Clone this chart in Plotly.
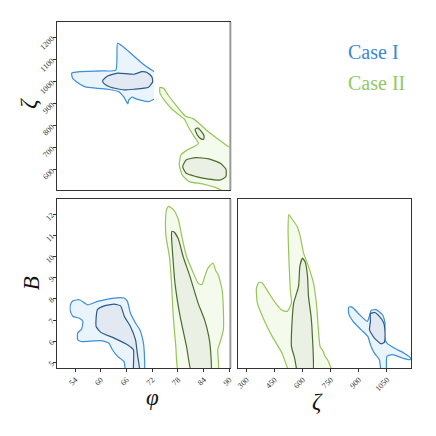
import plotly.graph_objects as go

# ranges / ticks
phi_range = [49.85, 90.23]
zeta_top_range = [509, 1271]
zeta_range = [256, 1180]
b_range = [4.74, 12.71]

phi_ticks = [54, 60, 66, 72, 78, 84, 90]
zeta_top_ticks = [600, 700, 800, 900, 1000, 1100, 1200]
zeta_ticks = [300, 450, 600, 750, 900, 1050]
b_ticks = [5, 6, 7, 8, 9, 10, 11, 12]

# ---- phi vs zeta (top panel) ----
c1_phi_zeta_outer_phi = [72.4, 71.1, 68.4, 67.3, 66.5, 66.3, 65.4, 64.2, 61.6, 57.8, 56.2, 54.3, 53.4,
                         53.2, 55.1, 60.1, 63.5, 63.9, 65.0, 66.5, 69.2, 70.7, 72.4]
c1_phi_zeta_outer_zeta = [921, 910, 921, 930, 917, 899, 930, 955, 966, 973, 978, 1000, 1016,
                          1039, 1046, 1049, 1053, 1175, 1162, 1137, 1091, 1068, 1046]
c1_phi_zeta_inner_phi = [60.4, 61.6, 63.9, 67.7, 69.6, 70.7, 71.9, 72.1, 71.1, 67.7, 65.4, 62.3, 60.8]
c1_phi_zeta_inner_zeta = [1005, 1026, 1039, 1034, 1046, 1043, 1023, 1000, 975, 966, 963, 975, 990]

c2_phi_zeta_outer_phi = [73.8, 74.7, 75.7, 77.2, 78.7, 79.9, 81.4, 82.9, 84.8, 87.1, 89.8, 90.8, 90.8,
                         86.7, 83.7, 80.6, 79.0, 78.3, 78.7, 80.2, 81.8, 82.8, 81.8, 80.6, 79.5,
                         78.3, 76.4, 74.9, 73.8]
c2_phi_zeta_outer_zeta = [975, 969, 940, 902, 865, 842, 834, 812, 778, 744, 706, 700, 490,
                          521, 537, 547, 577, 623, 668, 691, 706, 721, 751, 789, 830,
                          849, 880, 914, 948]
c2_phi_zeta_small_phi = [82.0, 82.6, 83.3, 84.1, 84.0, 83.3, 82.5]
c2_phi_zeta_small_zeta = [784, 791, 778, 754, 739, 742, 759]
c2_phi_zeta_inner_phi = [79.1, 79.9, 82.2, 85.2, 87.9, 89.2, 89.2, 87.9, 85.2, 82.2, 79.9]
c2_phi_zeta_inner_zeta = [615, 645, 656, 650, 630, 603, 570, 555, 558, 570, 585]

# ---- phi vs B (bottom left) ----
c1_phi_b_outer_phi = [52.9, 53.5, 55.0, 56.9, 59.2, 63.1, 65.4, 66.2, 66.9, 68.1, 69.1, 69.6, 70.0, 70.0,
                      66.0, 65.4, 63.9, 62.7, 61.9, 60.0, 55.4, 54.6, 54.6, 55.5, 55.8, 55.0, 53.5, 52.9]
c1_phi_b_outer_b = [7.72, 7.91, 7.96, 7.72, 7.88, 8.04, 8.04, 7.88, 7.33, 6.86, 6.54, 6.23, 5.84, 4.4,
                    4.4, 5.05, 5.29, 5.6, 5.91, 6.03, 5.99, 6.07, 6.39, 6.57, 6.94, 7.09, 7.17, 7.41]
c1_phi_b_inner_phi = [58.9, 59.2, 60.8, 63.1, 64.6, 65.5, 66.9, 68.1, 68.5, 69.1,
                      67.7, 67.6, 66.2, 63.1, 60.0, 58.9]
c1_phi_b_inner_b = [7.09, 7.49, 7.67, 7.75, 7.67, 7.17, 6.7, 6.07, 5.44, 4.4,
                    4.4, 5.6, 5.84, 6.15, 6.42, 6.7]

c2_phi_b_outer_phi = [75.8, 77.0, 78.1, 78.9, 80.0, 81.6, 82.7, 83.6, 84.2, 85.0, 86.2, 86.8, 87.4,
                      88.3, 88.6, 88.6, 88.0, 87.3, 87.3, 78.3, 77.5, 76.9, 76.5, 76.0, 75.2,
                      75.1, 75.3]
c2_phi_b_outer_b = [12.36, 12.2, 11.73, 10.95, 10.0, 9.22, 8.74, 8.67, 9.03, 9.45, 9.69, 9.34, 9.14,
                    8.43, 7.49, 6.54, 6.07, 5.6, 4.4, 4.4, 5.76, 7.17, 8.74, 10.0, 10.95,
                    11.73, 12.17]
c2_phi_b_inner_phi = [76.55, 77.1, 78.1, 79.2, 80.8, 82.7, 84.2, 85.2, 85.6, 85.6,
                      81.4, 80.0, 78.5, 77.3, 76.8, 76.5]
c2_phi_b_inner_b = [11.18, 11.15, 10.82, 10.0, 9.06, 7.8, 7.02, 6.23, 5.6, 4.4,
                    4.4, 5.76, 7.17, 8.74, 10.0, 10.95]

# ---- zeta vs B (bottom right) ----
c1_zeta_b_outer_zeta = [846, 864, 904, 945, 957, 966, 992, 1027, 1040, 1036, 1050, 1089, 1142, 1177,
                        1173, 1133, 1080, 1050, 1045, 1022, 1010, 983, 962, 948, 913, 869, 846]
c1_zeta_b_outer_b = [7.61, 7.61, 7.25, 6.94, 7.2, 7.46, 7.49, 7.25, 6.86, 6.23, 5.91, 5.68, 5.44, 5.21,
                     5.13, 5.21, 5.37, 5.29, 4.4, 4.4, 5.13, 5.44, 5.84, 6.23, 6.54, 6.94, 7.3]
c1_zeta_b_inner_zeta = [962, 983, 1010, 1033, 1040, 1036, 1019, 983, 957, 962]
c1_zeta_b_inner_b = [7.3, 7.36, 7.17, 6.86, 6.39, 5.95, 5.88, 6.15, 6.54, 6.94]

c2_zeta_b_outer_zeta = [353, 367, 385, 420, 455, 490, 517, 540, 534, 526, 522, 526, 540, 570, 587,
                        605, 631, 658, 675, 684, 693, 710, 719, 733, 760, 540, 490, 437, 393, 358]
c2_zeta_b_outer_b = [8.51, 8.78, 8.74, 8.27, 7.8, 7.46, 7.41, 7.8, 8.43, 10.0, 11.26, 11.97, 11.81,
                     11.42, 10.95, 10.16, 9.53, 8.74, 7.64, 6.54, 5.76, 5.52, 5.29, 5.13, 4.4,
                     4.4, 5.44, 6.23, 7.02, 7.8]
c2_zeta_b_inner_zeta = [599, 614, 626, 631, 645, 652, 652, 578, 557, 540, 543, 552, 578, 585]
c2_zeta_b_inner_b = [9.92, 9.72, 9.06, 8.12, 7.17, 6.23, 4.4, 4.4, 5.21, 5.76, 6.86, 7.8, 8.59, 9.53]

blue_line = '#3d8ed8'
blue_fill = '#e9f4fd'
blue_inner_line = '#2b5a8a'
blue_inner_fill = '#e2e9f2'
green_line = '#97c456'
green_fill = '#f5fbec'
green_inner_line = '#4c6a2b'
green_inner_fill = '#ebf0e4'


def add_contour(fig, xs, ys, line_color, fill_color, xaxis, yaxis, closed=True):
    fig.add_trace(go.Scatter(x=xs, y=ys, mode='lines', fill='toself', fillcolor=fill_color,
                             line=dict(width=0, shape='spline', smoothing=0.5),
                             xaxis=xaxis, yaxis=yaxis, hoverinfo='skip'))
    lx = xs + [xs[0]] if closed else xs
    ly = ys + [ys[0]] if closed else ys
    fig.add_trace(go.Scatter(x=lx, y=ly, mode='lines',
                             line=dict(color=line_color, width=1.2, shape='spline', smoothing=0.5),
                             xaxis=xaxis, yaxis=yaxis, hoverinfo='skip'))


fig = go.Figure()

# top panel
add_contour(fig, c1_phi_zeta_outer_phi, c1_phi_zeta_outer_zeta, blue_line, blue_fill, 'x', 'y', closed=False)
add_contour(fig, c1_phi_zeta_inner_phi, c1_phi_zeta_inner_zeta, blue_inner_line, blue_inner_fill, 'x', 'y')
add_contour(fig, c2_phi_zeta_outer_phi, c2_phi_zeta_outer_zeta, green_line, green_fill, 'x', 'y')
add_contour(fig, c2_phi_zeta_small_phi, c2_phi_zeta_small_zeta, green_inner_line, green_inner_fill, 'x', 'y')
add_contour(fig, c2_phi_zeta_inner_phi, c2_phi_zeta_inner_zeta, green_inner_line, green_inner_fill, 'x', 'y')

# bottom left
add_contour(fig, c1_phi_b_outer_phi, c1_phi_b_outer_b, blue_line, blue_fill, 'x2', 'y2')
add_contour(fig, c1_phi_b_inner_phi, c1_phi_b_inner_b, blue_inner_line, blue_inner_fill, 'x2', 'y2')
add_contour(fig, c2_phi_b_outer_phi, c2_phi_b_outer_b, green_line, green_fill, 'x2', 'y2')
add_contour(fig, c2_phi_b_inner_phi, c2_phi_b_inner_b, green_inner_line, green_inner_fill, 'x2', 'y2')

# bottom right
add_contour(fig, c2_zeta_b_outer_zeta, c2_zeta_b_outer_b, green_line, green_fill, 'x3', 'y3')
add_contour(fig, c2_zeta_b_inner_zeta, c2_zeta_b_inner_b, green_inner_line, green_inner_fill, 'x3', 'y3')
add_contour(fig, c1_zeta_b_outer_zeta, c1_zeta_b_outer_b, blue_line, blue_fill, 'x3', 'y3')
add_contour(fig, c1_zeta_b_inner_zeta, c1_zeta_b_inner_b, blue_inner_line, blue_inner_fill, 'x3', 'y3')

W = 436
tick_font = dict(family='Liberation Serif', size=8, color='#333')
axis_common = dict(showgrid=False, zeroline=False, showline=True, mirror=True, linecolor='#333',
                   linewidth=1, ticks='outside', ticklen=3, tickcolor='#333', tickfont=tick_font,
                   tickangle=-45)

fig.update_layout(
    width=W, height=W,
    margin=dict(l=0, r=0, t=0, b=0),
    paper_bgcolor='white', plot_bgcolor='white',
    showlegend=False,
    xaxis=dict(axis_common, domain=[56 / W, 231 / W], range=phi_range, anchor='y',
               showticklabels=False, ticks=''),
    yaxis=dict(axis_common, domain=[1 - 190 / W, 1 - 22 / W], range=zeta_top_range, anchor='x',
               tickvals=zeta_top_ticks),
    xaxis2=dict(axis_common, domain=[56 / W, 231 / W], range=phi_range, anchor='y2',
                tickvals=phi_ticks),
    yaxis2=dict(axis_common, domain=[1 - 368 / W, 1 - 199 / W], range=b_range, anchor='x2',
                tickvals=b_ticks),
    xaxis3=dict(axis_common, domain=[239 / W, 414 / W], range=zeta_range, anchor='y3',
                tickvals=zeta_ticks),
    yaxis3=dict(axis_common, domain=[1 - 368 / W, 1 - 199 / W], range=b_range, anchor='x3',
                showticklabels=False, ticks=''),
)

# grey right spines on the left column
for xa, ya in [('x', 'y'), ('x2', 'y2')]:
    fig.add_shape(type='line', xref=xa + ' domain', yref=ya + ' domain',
                  x0=1, x1=1, y0=0, y1=1, line=dict(color='#9a9a9a', width=2))

label_font = dict(family='Liberation Serif', size=23, color='#111')
fig.add_annotation(text='<i>ζ</i>', x=12 / W, y=1 - 96 / W, xref='paper', yref='paper',
                   showarrow=False, font=label_font, textangle=-90)
fig.add_annotation(text='<i>B</i>', x=15 / W, y=1 - 283 / W, xref='paper', yref='paper',
                   showarrow=False, font=label_font, textangle=-90)
fig.add_annotation(text='<i>φ</i>', x=144 / W, y=1 - 412 / W, xref='paper', yref='paper',
                   showarrow=False, font=label_font)
fig.add_annotation(text='<i>ζ</i>', x=327 / W, y=1 - 416 / W, xref='paper', yref='paper',
                   showarrow=False, font=label_font)

legend_font = dict(family='Liberation Serif', size=20)
fig.add_annotation(text='Case I', x=348 / W, y=1 - 39 / W, xref='paper', yref='paper',
                   xanchor='left', showarrow=False, font=dict(legend_font, color='#3a87d9'))
fig.add_annotation(text='Case II', x=348 / W, y=1 - 70 / W, xref='paper', yref='paper',
                   xanchor='left', showarrow=False, font=dict(legend_font, color='#93c862'))

# page body has a default 8px margin; drop it so the figure sits at the window origin
fig.write_html('out.html', config={'displayModeBar': False},
               post_script="document.body.style.margin='0px';")
